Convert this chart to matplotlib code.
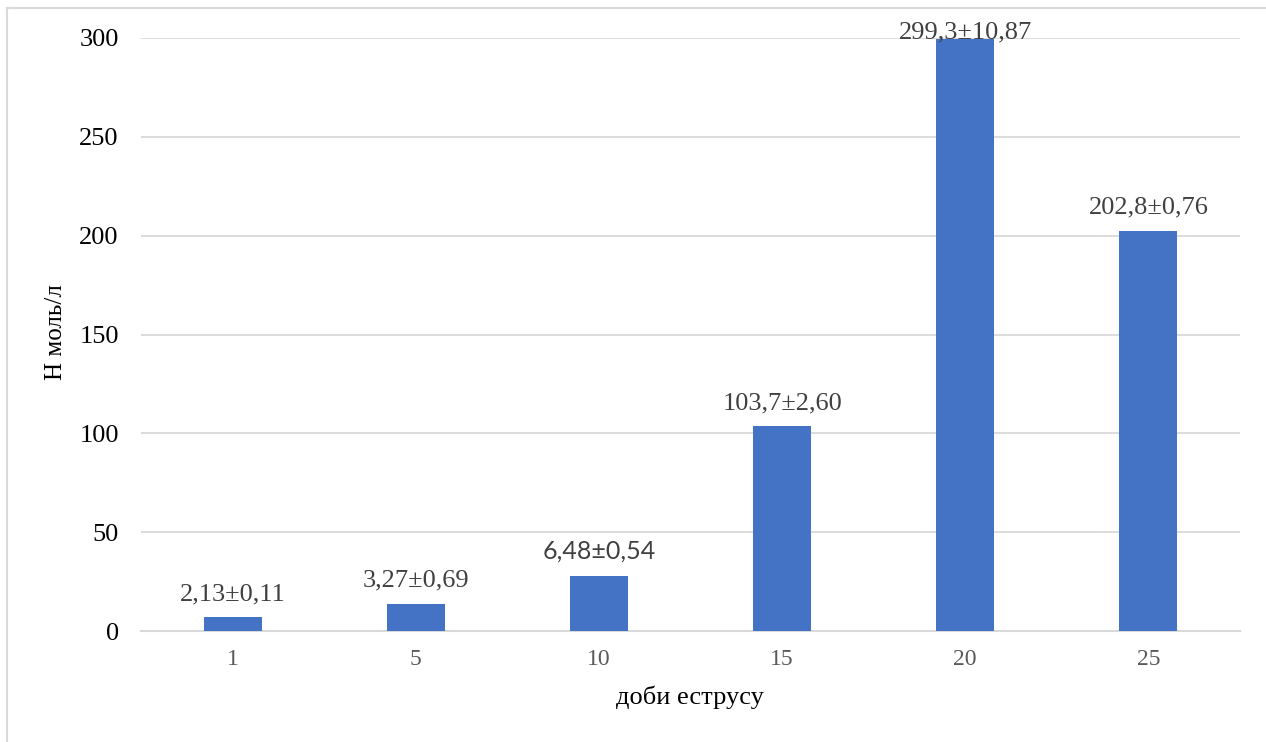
import numpy as np
import matplotlib
matplotlib.use("Agg")
import matplotlib.pyplot as plt
from matplotlib.lines import Line2D

# Days of estrus and measured values
days = ["1", "5", "10", "15", "20", "25"]
heights = [7.1, 13.7, 27.8, 103.7, 299.3, 202.4]
labels = ["2,13±0,11", "3,27±0,69", "6,48±0,54", "103,7±2,60", "299,3±10,87", "202,8±0,76"]
y_ticks = [0, 50, 100, 150, 200, 250, 300]

bar_color = "#4472C4"
grid_color = "#D9D9D9"

plt.rcParams["font.family"] = ["Liberation Serif", "DejaVu Serif"]

fig = plt.figure(figsize=(12.66, 7.42), dpi=100)
ax = fig.add_axes([141 / 1266, 1 - 631 / 742, 1099 / 1266, 593 / 742])

x = np.arange(len(days))
ax.bar(x, heights, width=0.317, color=bar_color, zorder=3)

ax.set_xlim(-0.5, len(days) - 0.5)
ax.set_ylim(0, 300)
ax.set_yticks(y_ticks)
ax.set_yticklabels([str(t) for t in y_ticks])
ax.set_xticks(x)
ax.set_xticklabels(days)

ax.tick_params(axis="y", length=0, pad=16, labelsize=19, labelcolor="#000000")
ax.tick_params(axis="x", length=0, pad=13, labelsize=17, labelcolor="#595959")
ax.yaxis.grid(True, color=grid_color, linewidth=1.3, zorder=0)
for side in ["top", "right", "left"]:
    ax.spines[side].set_visible(False)
ax.spines["bottom"].set_color(grid_color)
ax.spines["bottom"].set_linewidth(1.5)

# value labels above each bar; the tallest one is pulled down to stay in the chart area
for xi, h, txt in zip(x, heights, labels):
    off = 17 if h < 280 else 1
    family = ["Lato", "DejaVu Sans"] if txt.startswith("6,48") else ["Liberation Serif", "DejaVu Serif"]
    ax.annotate(txt, (xi, h), xytext=(0, off), textcoords="offset pixels",
                ha="center", va="baseline", fontsize=19 if "Lato" not in family else 18,
                color="#404040", family=family, annotation_clip=False, zorder=4)

fig.text(56 / 1266, 1 - 332 / 742, "Н моль/л", rotation=90, ha="center", va="center",
         fontsize=18, color="#000000")
fig.text(690 / 1266, 1 - 697 / 742, "доби еструсу", ha="center", va="center",
         fontsize=19, color="#000000")

# chart area border
fig.add_artist(Line2D([7 / 1266, 7 / 1266], [0, 1 - 8 / 742], color=grid_color, linewidth=1.5))
fig.add_artist(Line2D([7 / 1266, 1], [1 - 8 / 742, 1 - 8 / 742], color=grid_color, linewidth=1.5))

fig.savefig("out.png", dpi=100)
